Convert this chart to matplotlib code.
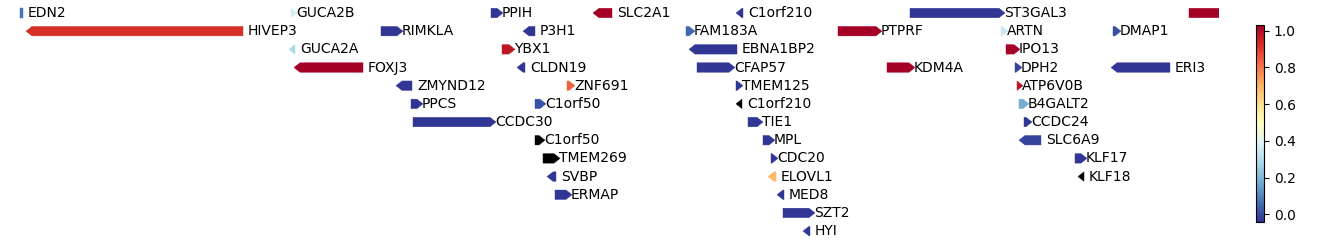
"""Gene track: arrows per gene, coloured by score (RdYlBu_r), packed in rows."""
import numpy as np
import matplotlib
matplotlib.use("Agg")
import matplotlib.pyplot as plt
from matplotlib.patches import FancyArrow
from matplotlib.colors import Normalize

# ----- gene data (x in track units, row = packing row) -----
genes = ["EDN2", "GUCA2B", "PPIH", "SLC2A1", "C1orf210", "ST3GAL3", "",
         "HIVEP3", "RIMKLA", "P3H1", "FAM183A", "PTPRF", "ARTN", "DMAP1",
         "GUCA2A", "YBX1", "EBNA1BP2", "IPO13",
         "FOXJ3", "CLDN19", "CFAP57", "KDM4A", "DPH2", "ERI3",
         "ZMYND12", "ZNF691", "TMEM125", "ATP6V0B",
         "PPCS", "C1orf50", "C1orf210", "B4GALT2",
         "CCDC30", "TIE1", "CCDC24",
         "C1orf50", "MPL", "SLC6A9",
         "TMEM269", "CDC20", "KLF17",
         "SVBP", "ELOVL1", "KLF18",
         "ERMAP", "MED8",
         "SZT2",
         "HYI"]
starts = [20, 291, 491, 599, 742, 910, 1189,
          32, 381, 529, 686, 838, 1001, 1113,
          295, 502, 695, 1006,
          300, 523, 697, 887, 1015, 1117,
          402, 567, 736, 1017,
          411, 535, 742, 1019,
          413, 748, 1024,
          535, 763, 1025,
          543, 771, 1075,
          553, 774, 1084,
          555, 783,
          783,
          809]
ends = [23, 291, 497, 612, 743, 999, 1260,
        243, 397, 535, 689, 876, 1002, 1115,
        295, 509, 737, 1014,
        363, 525, 729, 909, 1016, 1170,
        412, 569, 737, 1017,
        417, 540, 742, 1023,
        490, 757, 1026,
        539, 769, 1041,
        554, 772, 1081,
        556, 776, 1084,
        566, 784,
        809,
        810]
strands = [0, 1, 1, -1, -1, 1, 1,
           -1, 1, -1, 1, 1, 1, 1,
           -1, 1, -1, 1,
           -1, -1, 1, 1, 1, -1,
           -1, 1, 1, 1,
           1, 1, -1, 1,
           1, 1, 1,
           1, 1, -1,
           1, 1, 1,
           -1, -1, -1,
           1, -1,
           1,
           -1]
rows = [0] * 7 + [1] * 7 + [2] * 4 + [3] * 6 + [4] * 4 + [5] * 4 + [6] * 3 \
    + [7] * 3 + [8] * 3 + [9] * 3 + [10] * 2 + [11] + [12]
values = [0.1, 0.38, 0.0, 1.0, 0.0, 0.0, 1.0,
          0.9, 0.0, 0.0, 0.08, 1.0, 0.36, 0.04,
          0.3, 0.95, 0.0, 1.0,
          1.0, 0.0, 0.0, 1.0, 0.02, 0.0,
          0.0, 0.82, 0.0, 0.96,
          0.0, 0.05, np.nan, 0.2,
          0.0, 0.0, 0.0,
          np.nan, 0.0, 0.02,
          np.nan, 0.0, 0.0,
          0.0, 0.68, np.nan,
          0.0, 0.0,
          0.0,
          0.0]

CB_MIN, CB_MAX = -0.04, 1.03   # colorbar span
HEAD = 6.0       # arrow head length, track units
LABEL_GAP = 5.0
BAR_H = 0.52     # arrow thickness in row units


def main():
    fig = plt.figure(figsize=(13.38, 2.46), dpi=100)
    ax = fig.add_axes([0, 0, 1219 / 1338, 1])
    cmap = plt.get_cmap("RdYlBu_r")
    norm = Normalize(0.0, 1.0)

    for name, s, e, st, r, v in zip(genes, starts, ends, strands, rows, values):
        color = "black" if np.isnan(v) else cmap(norm(v))
        if st == 1:
            x0, dx, hl = s, (e - s) + HEAD, HEAD
        elif st == -1:
            x0, dx, hl = e, -((e - s) + HEAD), HEAD
        else:
            x0, dx, hl = s, e - s, 0.0
        arr = FancyArrow(x0, r, dx, 0, width=BAR_H, head_width=BAR_H,
                         head_length=hl, length_includes_head=True,
                         color=color, lw=0.3)
        ax.add_patch(arr)
        if name:
            ax.text(e + LABEL_GAP, r, name, va="center", ha="left",
                    fontsize=10, clip_on=True)

    ax.set_xlim(0, 1219)
    ax.set_ylim(12.82, -0.715)
    ax.axis("off")

    cax = fig.add_axes([1256 / 1338, 1 - 221.7 / 246, 8 / 1338, 196.7 / 246])
    sm = plt.cm.ScalarMappable(norm=Normalize(CB_MIN, CB_MAX), cmap=cmap)
    cb = fig.colorbar(sm, cax=cax)
    cb.set_ticks([0.0, 0.2, 0.4, 0.6, 0.8, 1.0])
    cb.ax.tick_params(labelsize=10)

    fig.savefig("out.png", dpi=100)
    plt.close(fig)


if __name__ == "__main__":
    main()
